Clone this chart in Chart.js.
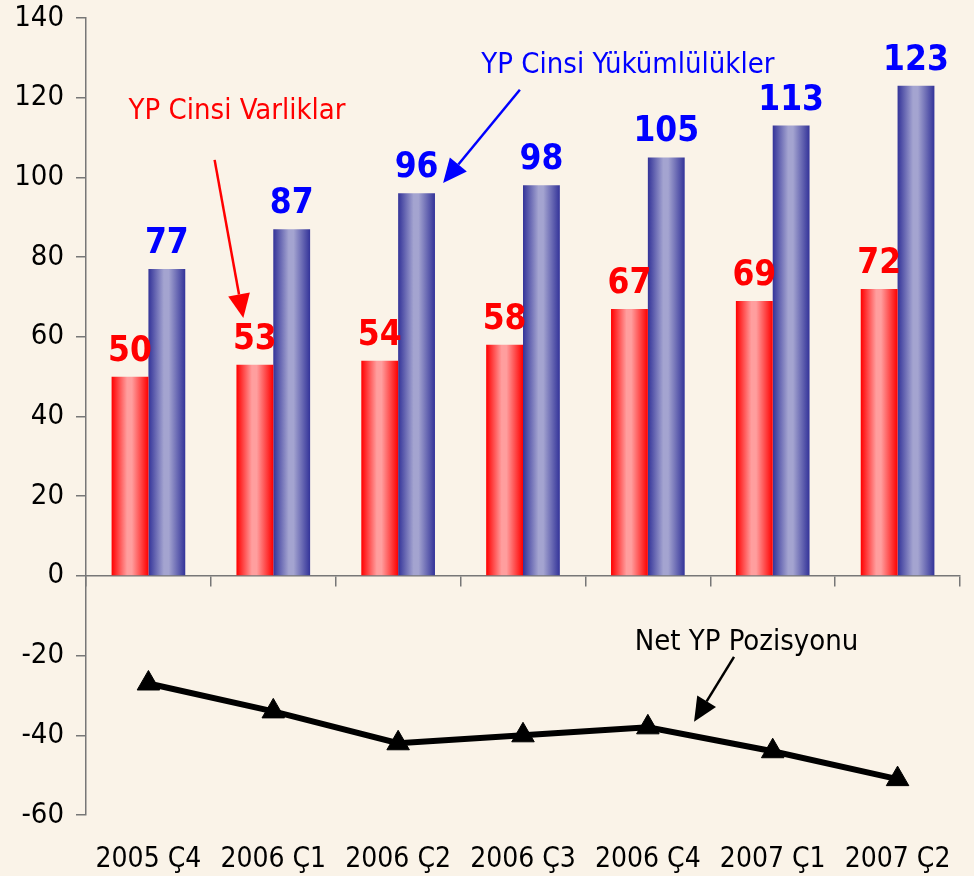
<!DOCTYPE html>
<html>
<head>
<meta charset="utf-8">
<script src="https://cdn.jsdelivr.net/npm/chart.js@4/dist/chart.umd.min.js"></script>
<style>
  html, body { margin: 0; padding: 0; background: #FAF3E8; }
  canvas { display: block; }
</style>
</head>
<body>
<canvas id="chart" width="974" height="876"></canvas>
<script>
(function() {
    'use strict';

    var quarters = ['2005 Ç4', '2006 Ç1', '2006 Ç2', '2006 Ç3', '2006 Ç4', '2007 Ç1', '2007 Ç2'];
    var assets = [50, 53, 54, 58, 67, 69, 72];
    var liabilities = [77, 87, 96, 98, 105, 113, 123];
    var netPosition = [-27, -34, -42, -40, -38, -44, -51];
    var yTicks = [-60, -40, -20, 0, 20, 40, 60, 80, 100, 120, 140];

    var FONT = "'DejaVu Sans Condensed', 'DejaVu Sans', sans-serif";
    var CAT_PCT = 0.59;

    // annotations, placed in axis units (category index, value)
    var notes = [
        { text: 'YP Cinsi Varliklar', color: '#FF0000', at: [0.71, 116.5], from: [0.53, 104.4], to: [0.76, 64.7] },
        { text: 'YP Cinsi Yükümlülükler', color: '#0000FF', at: [3.84, 128], from: [2.975, 122], to: [2.36, 98.6] },
        { text: 'Net YP Pozisyonu', color: '#000000', at: [4.79, -16.6], from: [4.69, -20.3], to: [4.37, -36.6] }
    ];

    function barGradient(dark, light) {
        return function(context) {
            var chart = context.chart;
            var x = chart.scales.x;
            if (!chart.chartArea || !x) return dark;
            var center = x.getPixelForValue(context.dataIndex);
            var half = x.width / quarters.length * CAT_PCT / 2;
            var left = context.datasetIndex === 0 ? center - half : center;
            var g = chart.ctx.createLinearGradient(left, 0, left + half, 0);
            g.addColorStop(0, dark);
            g.addColorStop(0.42, light);
            g.addColorStop(0.55, light);
            g.addColorStop(1, dark);
            return g;
        };
    }

    function noOverflow(scale) {
        scale.paddingTop = 0;
        scale.paddingBottom = 0;
        scale.paddingLeft = 0;
        scale.paddingRight = 0;
    }

    var valueLabels = {
        id: 'valueLabels',
        afterDatasetsDraw: function(chart) {
            var ctx = chart.ctx;
            ctx.save();
            ctx.font = 'bold 35px ' + FONT;
            ctx.textAlign = 'center';
            ctx.textBaseline = 'alphabetic';
            [0, 1].forEach(function(di) {
                var ds = chart.data.datasets[di];
                chart.getDatasetMeta(di).data.forEach(function(bar, i) {
                    ctx.fillStyle = ds.labelColor;
                    ctx.fillText(ds.data[i], bar.x, bar.y - 16);
                });
            });
            ctx.restore();
        }
    };

    var arrows = {
        id: 'arrows',
        afterDraw: function(chart) {
            var ctx = chart.ctx;
            var xs = chart.scales.x, ys = chart.scales.y;
            function pt(p) { return [xs.getPixelForValue(p[0]), ys.getPixelForValue(p[1])]; }
            ctx.save();
            notes.forEach(function(n) {
                var a = pt(n.at), f = pt(n.from), t = pt(n.to);
                ctx.fillStyle = n.color;
                ctx.strokeStyle = n.color;
                ctx.font = '29px ' + FONT;
                ctx.textAlign = 'center';
                ctx.textBaseline = 'middle';
                ctx.fillText(n.text, a[0], a[1]);

                var ang = Math.atan2(t[1] - f[1], t[0] - f[0]);
                var headLen = 24, headW = 11;
                var bx = t[0] - headLen * Math.cos(ang), by = t[1] - headLen * Math.sin(ang);
                ctx.lineWidth = 2.5;
                ctx.beginPath();
                ctx.moveTo(f[0], f[1]);
                ctx.lineTo(bx, by);
                ctx.stroke();
                ctx.beginPath();
                ctx.moveTo(t[0], t[1]);
                ctx.lineTo(bx + headW * Math.sin(ang), by - headW * Math.cos(ang));
                ctx.lineTo(bx - headW * Math.sin(ang), by + headW * Math.cos(ang));
                ctx.closePath();
                ctx.fill();
            });
            ctx.restore();
        }
    };

    var bgPlugin = {
        id: 'bg',
        beforeDraw: function(chart) {
            var ctx = chart.ctx;
            ctx.save();
            ctx.fillStyle = '#FAF3E8';
            ctx.fillRect(0, 0, chart.width, chart.height);
            ctx.restore();
        }
    };

    new Chart(document.getElementById('chart').getContext('2d'), {
        type: 'bar',
        data: {
            labels: quarters,
            datasets: [{
                label: 'YP Cinsi Varliklar',
                data: assets,
                backgroundColor: barGradient('#FF0000', '#FF9E9E'),
                labelColor: '#FF0000',
                categoryPercentage: CAT_PCT,
                barPercentage: 1.0,
                order: 2
            }, {
                label: 'YP Cinsi Yükümlülükler',
                data: liabilities,
                backgroundColor: barGradient('#333399', '#A4A4D0'),
                labelColor: '#0000FF',
                categoryPercentage: CAT_PCT,
                barPercentage: 1.0,
                order: 2
            }, {
                type: 'line',
                label: 'Net YP Pozisyonu',
                data: netPosition,
                borderColor: '#000000',
                borderWidth: 6,
                tension: 0,
                pointStyle: 'triangle',
                pointRadius: 13,
                pointBackgroundColor: '#000000',
                pointBorderColor: '#000000',
                pointBorderWidth: 1,
                order: 1
            }]
        },
        options: {
            responsive: false,
            animation: false,
            devicePixelRatio: 1,
            layout: { padding: { top: 18, right: 5, left: 0, bottom: 0 } },
            plugins: {
                legend: { display: false },
                tooltip: { enabled: false }
            },
            scales: {
                x: {
                    grid: { display: false },
                    border: { display: false },
                    ticks: { color: '#000', font: { family: FONT, size: 28 }, padding: 20, maxRotation: 0 },
                    afterFit: function(scale) { scale.height = 61; noOverflow(scale); }
                },
                x2: {
                    type: 'category',
                    axis: 'x',
                    labels: quarters,
                    position: { y: 0 },
                    offset: true,
                    grid: { offset: true, drawOnChartArea: false, drawTicks: true, tickLength: 10, color: '#777', lineWidth: 1.5 },
                    border: { display: true, color: '#777', width: 1.5 },
                    ticks: { display: false },
                    afterFit: noOverflow
                },
                y: {
                    min: -60,
                    max: 140,
                    afterBuildTicks: function(scale) {
                        scale.ticks = yTicks.map(function(v) { return { value: v }; });
                    },
                    grid: { drawOnChartArea: false, drawTicks: true, tickLength: 10, color: '#777', lineWidth: 1.5 },
                    border: { display: true, color: '#777', width: 1.5 },
                    ticks: { color: '#000', font: { family: FONT, size: 29 }, padding: 12 },
                    afterFit: function(scale) { scale.width = 86; noOverflow(scale); }
                }
            }
        },
        plugins: [bgPlugin, valueLabels, arrows]
    });
})();
</script>
</body>
</html>
